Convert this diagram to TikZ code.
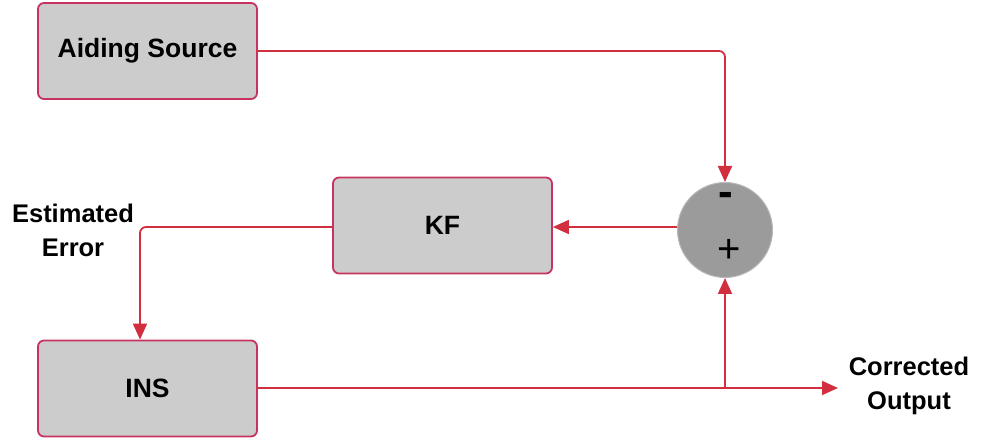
\documentclass[tikz,border=0pt]{standalone}
\usepackage{fontspec}
\setmainfont{Liberation Sans}
\usetikzlibrary{arrows.meta}
\definecolor{boxfill}{HTML}{CCCCCC}
\definecolor{boxline}{HTML}{C8325F}
\definecolor{wire}{HTML}{D12F3E}
\definecolor{sumfill}{HTML}{9B9B9B}
\begin{document}
\begin{tikzpicture}[x=1pt,y=-1pt,
  blockbox/.style={draw=boxline,fill=boxfill,line width=1.8pt,rounded corners=6pt,
    minimum width=219pt,minimum height=96pt,inner sep=0pt,
    font=\fontsize{26.5}{30}\selectfont\bfseries},
  lbl/.style={font=\fontsize{25.5}{34}\selectfont\bfseries,align=center,inner sep=0pt},
  wireline/.style={draw=wire,line width=1.8pt,rounded corners=6pt},
  arr/.style={wireline,-{Triangle[length=16pt,width=14pt]}}]
\useasboundingbox (0,0) rectangle (983,443);
\node[blockbox] (aid) at (147.5,51) {Aiding Source};
\node[blockbox] (kf) at (442.5,225.5) {KF};
\node[blockbox] (ins) at (147.5,388.5) {INS};
\node[circle,fill=sumfill,draw=sumfill!70!white,line width=1pt,minimum size=95pt,inner sep=0pt] (sum) at (725,230) {};
\node[font=\fontsize{44}{48}\selectfont\bfseries,inner sep=0pt,anchor=base] (minus) at (726,206.5) {-};
\node[font=\fontsize{40}{44}\selectfont,inner sep=0pt,anchor=base] (plus) at (729,262.5) {+};
\node[lbl] (est) at (73,230) {Estimated\\Error};
\node[lbl] (corr) at (909,386) {Corrected\\Output};
\coordinate (out) at (838,388);
\coordinate (branch) at (725,388);
\draw[arr] (aid.east |- 0,51) -| (sum.north);
\draw[arr] (sum.west |- 0,227) -- (kf.east |- 0,227);
\draw[arr] (kf.west |- 0,227) -| (140,0 |- ins.north);
\draw[arr] (ins.east |- out) -- (out);
\draw[arr] (branch) -- (sum.south);
\end{tikzpicture}
\end{document}
